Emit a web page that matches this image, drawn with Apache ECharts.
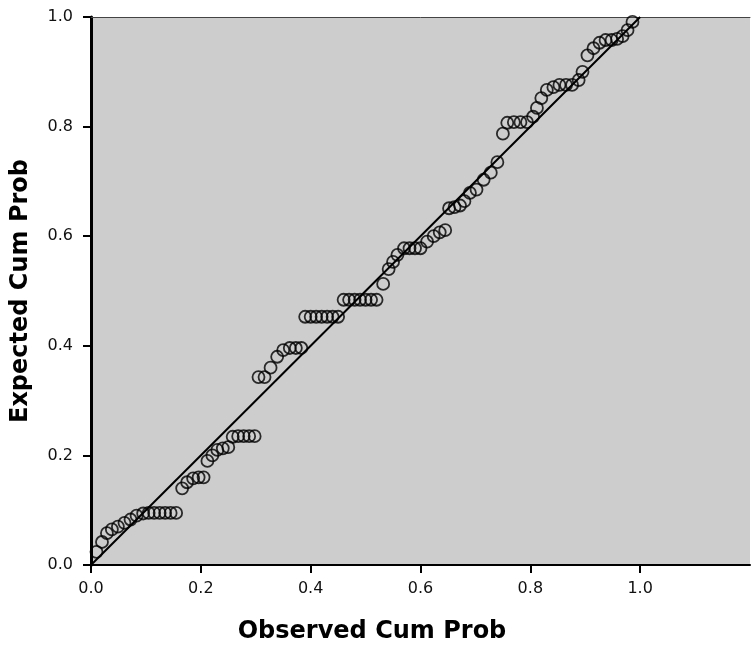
<!DOCTYPE html>
<html>
<head>
<meta charset="utf-8">
<title>P-P Plot</title>
<script src="https://cdn.jsdelivr.net/npm/echarts@6/dist/echarts.min.js"></script>
<style>
	html, body { margin: 0; padding: 0; background: #fff; }
	#chart { width: 753px; height: 650px; }
</style>
</head>
<body>
<div id="chart"></div>
<script>
// observed cumulative probability (x) and expected cumulative probability (y)
const observedCum = [
	0.010, 0.020, 0.029, 0.038, 0.049, 0.061, 0.072, 0.083, 0.095, 0.105, 0.115, 0.125, 0.135, 0.145, 0.155,
	0.166, 0.175, 0.186, 0.196, 0.205, 0.212, 0.221, 0.230, 0.240, 0.250, 0.258, 0.268, 0.278, 0.288, 0.298,
	0.305, 0.316, 0.327, 0.339, 0.350, 0.362, 0.373, 0.383,
	0.390, 0.400, 0.410, 0.420, 0.430, 0.440, 0.450,
	0.460, 0.470, 0.480, 0.490, 0.500, 0.510, 0.520,
	0.532, 0.542, 0.550, 0.558, 0.570, 0.580, 0.590, 0.600, 0.612, 0.624, 0.635, 0.645,
	0.652, 0.662, 0.672, 0.680, 0.690, 0.702, 0.715, 0.728, 0.740,
	0.750, 0.758, 0.770, 0.782, 0.794, 0.805, 0.812, 0.820, 0.830, 0.842, 0.853, 0.865, 0.876,
	0.888, 0.895, 0.904, 0.915, 0.926, 0.937, 0.948, 0.958, 0.968, 0.977, 0.986
];
const expectedCum = [
	0.024, 0.042, 0.058, 0.065, 0.070, 0.077, 0.083, 0.090, 0.094, 0.095, 0.095, 0.095, 0.095, 0.095, 0.095,
	0.140, 0.151, 0.158, 0.160, 0.160, 0.190, 0.200, 0.210, 0.213, 0.215, 0.234, 0.235, 0.235, 0.235, 0.235,
	0.343, 0.343, 0.360, 0.380, 0.392, 0.396, 0.396, 0.396,
	0.453, 0.453, 0.453, 0.453, 0.453, 0.453, 0.453,
	0.484, 0.484, 0.484, 0.484, 0.484, 0.484, 0.484,
	0.513, 0.540, 0.553, 0.566, 0.578, 0.578, 0.578, 0.578, 0.590, 0.600, 0.607, 0.611,
	0.651, 0.653, 0.656, 0.664, 0.679, 0.685, 0.703, 0.716, 0.735,
	0.787, 0.807, 0.808, 0.808, 0.808, 0.818, 0.834, 0.852, 0.867, 0.872, 0.876, 0.876, 0.876,
	0.885, 0.900, 0.930, 0.943, 0.953, 0.958, 0.958, 0.960, 0.965, 0.976, 0.991
];
// diagonal reference line
const refLineX = [0, 1];
const refLineY = [0, 1];
const tickLabels = ['0.0', '0.2', '0.4', '0.6', '0.8', '1.0'];

const chart = echarts.init(document.getElementById('chart'));

const points = observedCum.map((x, i) => [x, expectedCum[i]]);
const line = refLineX.map((x, i) => [x, refLineY[i]]);

const labelStyle = {
	color: '#111',
	fontFamily: 'DejaVu Sans',
	fontSize: 16,
	formatter: v => {
		const s = v.toFixed(1);
		return tickLabels.indexOf(s) >= 0 ? s : '';
	}
};

const option = {
	animation: false,
	backgroundColor: '#fff',
	grid: {
		left: 91,
		right: 0,
		top: 17,
		bottom: 85,
		show: true,
		backgroundColor: '#cdcdcd',
		borderWidth: 0
	},
	title: {
		text: 'Observed Cum Prob',
		left: 367,
		top: 615,
		textAlign: 'center',
		textStyle: {
			fontFamily: 'DejaVu Sans',
			fontWeight: 'bold',
			fontSize: 24,
			color: '#000'
		}
	},
	xAxis: [
		{
			type: 'value',
			min: 0,
			max: 1.2,
			interval: 0.2,
			axisLine: { show: true, onZero: false, lineStyle: { color: '#000', width: 2 } },
			axisTick: {
				show: true, length: 8, lineStyle: { color: '#000', width: 2 },
				customValues: [0, 0.2, 0.4, 0.6, 0.8, 1.0]
			},
			axisLabel: Object.assign({ margin: 16 }, labelStyle),
			splitLine: { show: false }
		},
		{
			// top edge of the plot frame only
			type: 'value',
			position: 'top',
			min: 0,
			max: 1.2,
			axisLine: { show: true, onZero: false, lineStyle: { color: '#444', width: 1 } },
			axisTick: { show: false },
			axisLabel: { show: false },
			splitLine: { show: false }
		}
	],
	yAxis: {
		type: 'value',
		min: 0,
		max: 1,
		interval: 0.2,
		name: 'Expected Cum Prob',
		nameLocation: 'middle',
		nameGap: 58,
		nameTextStyle: {
			fontFamily: 'DejaVu Sans',
			fontWeight: 'bold',
			fontSize: 24,
			color: '#000'
		},
		axisLine: { show: true, onZero: false, lineStyle: { color: '#000', width: 3 } },
		axisTick: { show: true, length: 8, lineStyle: { color: '#000', width: 2 } },
		axisLabel: Object.assign({ margin: 18 }, labelStyle),
		splitLine: { show: false }
	},
	series: [
		{
			type: 'line',
			data: line,
			symbol: 'none',
			lineStyle: { color: '#000', width: 2 },
			z: 2
		},
		{
			type: 'scatter',
			data: points,
			symbol: 'circle',
			symbolSize: 12,
			itemStyle: {
				color: 'rgba(0,0,0,0)',
				borderColor: '#000',
				borderWidth: 1.8
			},
			z: 3
		}
	]
};

chart.setOption(option);

window.addEventListener('resize', () => {
	chart.resize();
});
</script>
</body>
</html>
